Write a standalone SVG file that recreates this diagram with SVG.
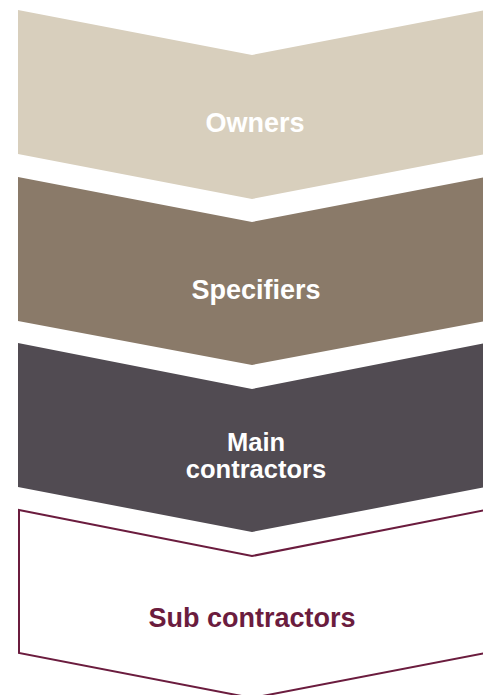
<svg xmlns="http://www.w3.org/2000/svg" width="483" height="695" viewBox="0 0 483 695">
<style>
.lbl{font-family:"Liberation Sans",Arial,sans-serif;font-weight:bold;font-size:27px;text-anchor:middle;fill:#ffffff}
.two{font-size:25.5px}
.sub{fill:#6b1c3e}
</style>
<rect width="483" height="695" fill="#ffffff"/>
<g id="owners">
<path d="M18,10 L252,55 L486,10 L486,154 L252,199 L18,154 Z" fill="#d8cfbd"/>
<text class="lbl" x="255" y="132">Owners</text>
</g>
<g id="specifiers">
<path d="M18,177 L252,222 L486,177 L486,321 L252,365 L18,321 Z" fill="#8a7a69"/>
<text class="lbl" x="256" y="299">Specifiers</text>
</g>
<g id="main-contractors">
<path d="M18,343 L252,389 L486,343 L486,487 L252,532 L18,487 Z" fill="#514b52"/>
<text class="lbl two" x="256" y="451">Main</text>
<text class="lbl two" x="256" y="478">contractors</text>
</g>
<g id="sub-contractors">
<path d="M19,510 L252,556 L486,510 L486,653 L252,698 L19,653 Z" fill="#ffffff" stroke="#6b1c3e" stroke-width="2"/>
<text class="lbl sub" x="252" y="627">Sub contractors</text>
</g>
<g id="connectors"/>
</svg>
